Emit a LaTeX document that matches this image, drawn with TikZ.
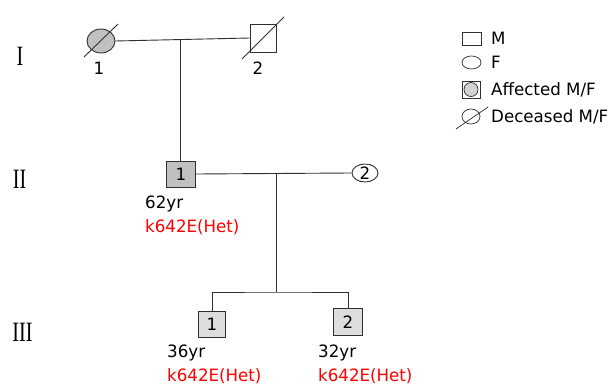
\documentclass[tikz,border=0pt]{standalone}
\usepackage{fontspec}
\setmainfont{DejaVu Sans}[FakeStretch=0.98]
\newfontfamily\romanfont{Liberation Serif}
\usetikzlibrary{shapes.geometric,calc}
\definecolor{affgray}{HTML}{C0C0C0}
\definecolor{litegray}{HTML}{DDDDDD}
\definecolor{legray}{HTML}{D3D3D3}
\definecolor{linegray}{HTML}{303030}
\begin{document}
\begin{tikzpicture}[x=1pt,y=-1pt,
  every node/.style={font=\fontsize{17}{17}\selectfont, inner sep=0pt},
  male/.style={draw=linegray, line width=0.9pt, rectangle},
  female/.style={draw=linegray, line width=0.9pt, ellipse},
  conn/.style={draw=linegray, line width=0.9pt},
  gen/.style={font=\romanfont\fontsize{28}{28}\selectfont},
  red/.style={text=red, anchor=base west},
  lbl/.style={anchor=base west},
  num/.style={anchor=base}]
\useasboundingbox (0,0) rectangle (608,385);
% Generation I
\node[female, fill=affgray, minimum width=28, minimum height=24] (I1) at (101,41) {};
\node[male, minimum width=26, minimum height=28] (I2) at (263,38) {};
\draw[conn] ($(I1)+(-17,16)$) -- ($(I1)+(17,-17)$);
\draw[conn] ($(I2)+(-21,21)$) -- ($(I2)+(21,-21)$);
\node[num] (I1l) at (99,75) {1};
\node[num] (I2l) at (258,75) {2};
\draw[conn] (I1.east) -- (I2.west);
\coordinate (m1) at (180,39.5);
% Generation II
\node[male, fill=affgray, minimum width=29, minimum height=26] (II1) at (181,174) {1};
\node[female, minimum width=26, minimum height=18] (II2) at (365,173) {2};
\draw[conn] (m1) -- (m1 |- II1.north);
\draw[conn] (II1.east) -- (II2.west);
\coordinate (m2) at (276,173.5);
\node[lbl] (II1a) at (145,208) {62yr};
\node[red] (II1g) at (145,232) {k642E(Het)};
% Generation III
\coordinate (s) at (276,292);
\node[male, fill=litegray, minimum width=27, minimum height=26] (III1) at (212,324) {1};
\node[male, fill=litegray, minimum width=29, minimum height=27] (III2) at (348,322) {2};
\draw[conn] (m2) -- (s);
\draw[conn] (III1.north) |- (s) -| (III2.north);
\node[lbl] (III1a) at (167,357) {36yr};
\node[red] (III1g) at (167,381) {k642E(Het)};
\node[lbl] (III2a) at (318,357) {32yr};
\node[red] (III2g) at (318,381) {k642E(Het)};
% Generation labels
\node[gen] (g1) at (20,56.5) {\scalebox{0.72}[1]{I}};
\node[gen] (g2) at (19.5,179.5) {\scalebox{0.72}[1]{II}};
\node[gen] (g3) at (22.5,332.5) {\scalebox{0.72}[1]{III}};
% Legend
\node[male, line width=0.7pt, minimum width=19, minimum height=13] (Lm) at (471.5,38.5) {};
\node[lbl] (Lmt) at (491,44.5) {M};
\node[female, line width=0.7pt, minimum width=19, minimum height=13] (Lf) at (471.5,62.5) {};
\node[lbl] (Lft) at (491,68.5) {F};
\node[male, line width=0.7pt, minimum width=18, minimum height=17] (La) at (471,89.5) {};
\node[female, line width=0.7pt, fill=legray, minimum width=14, minimum height=14] (La2) at (471,89.5) {};
\node[lbl] (Lat) at (491,95.5) {Affected M/F};
\node[female, line width=0.7pt, minimum width=18, minimum height=15] (Ld) at (471,116.5) {};
\draw[conn, line width=0.7pt] ($(Ld)+(-15,12.5)$) -- ($(Ld)+(17,-9.5)$);
\node[lbl] (Ldt) at (491,122.5) {Deceased M/F};
\end{tikzpicture}
\end{document}
